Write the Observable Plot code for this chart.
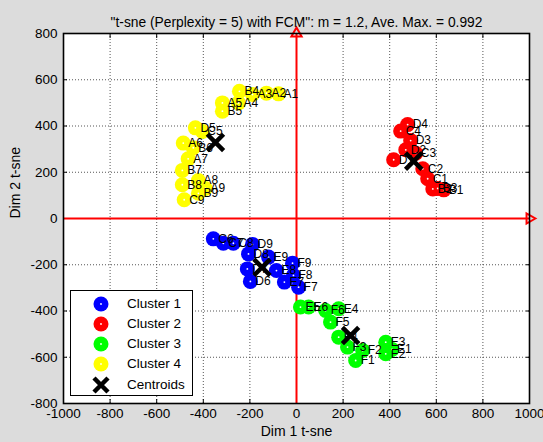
<!DOCTYPE html>
<html><head><meta charset="utf-8">
<script src="https://cdn.jsdelivr.net/npm/d3@7"></script>
<script src="https://cdn.jsdelivr.net/npm/@observablehq/plot@0.6"></script>
<style>
html,body{margin:0;padding:0;background:#dcdcdc;}
#wrap{position:relative;width:543px;height:442px;overflow:hidden;}
#legend{position:absolute;left:70px;top:290px;width:123px;height:106px;background:#fff;border:1px solid #000;box-sizing:border-box;font:13.5px "Liberation Sans",Arial,sans-serif;color:#000;}
#legend .row{position:absolute;left:0;height:20px;width:121px;}
#legend svg{position:absolute;left:20px;top:0;}
#legend span{position:absolute;left:56px;top:2px;line-height:16px;}
</style></head>
<body><div id="wrap"><div id="chart"></div><div id="legend"></div></div>
<script>
// ---- data ----
const titleText = "\"t-sne (Perplexity = 5) with FCM\": m = 1.2, Ave. Max. = 0.992";
const xLabel = "Dim 1 t-sne";
const yLabel = "Dim 2 t-sne";
const xTicks = [-1000, -800, -600, -400, -200, 0, 200, 400, 600, 800, 1000];
const yTicks = [-800, -600, -400, -200, 0, 200, 400, 600, 800];

const clusterNames = ["Cluster 1", "Cluster 2", "Cluster 3", "Cluster 4"];
const clusterColors = ["#0000ff", "#ff0000", "#00ff00", "#ffff00"];

const c1Labels = ["C6","C7","C8","D9","D8","E9","D7","D6","E8","F9","F8","E7","F7"];
const c1X = [-357,-314,-271,-189,-206,-120,-211,-198,-86,-17,-13,-52,9];
const c1Y = [-88,-107,-107,-112,-153,-167,-218,-272,-225,-193,-246,-275,-297];

const c2Labels = ["D4","C4","D3","D2","C3","D1","C2","C1","B2","B3","B1"];
const c2X = [477,447,490,469,512,417,542,563,585,606,632];
const c2Y = [406,378,337,297,282,254,215,172,128,130,124];

const c3Labels = ["E5","E6","F6","E4","F5","F4","F3","F2","F1","E3","E1","E2"];
const c3X = [17,52,125,181,146,181,219,284,254,383,410,383];
const c3Y = [-383,-383,-398,-390,-448,-513,-556,-571,-614,-535,-566,-585];

const c4Labels = ["A1","A2","A3","B4","A4","A5","B5","D5","C5","A6","B6","A7","B7","B8","A8","B9","A9","C9"];
const c4X = [-77,-129,-189,-245,-249,-318,-318,-434,-404,-486,-443,-465,-490,-490,-421,-421,-391,-482];
const c4Y = [539,542,536,550,500,500,464,392,376,326,306,258,208,146,164,109,130,81];

const centroidX = [-148, 503, 232, -348];
const centroidY = [-211, 248, -506, 329];

// ---- build tables ----
const groups = [[c1Labels,c1X,c1Y],[c2Labels,c2X,c2Y],[c3Labels,c3X,c3Y],[c4Labels,c4X,c4Y]];
const pts = [];
groups.forEach(([L,X,Y],g) => L.forEach((lab,i) => pts.push({label:lab, x:X[i], y:Y[i], cluster:clusterNames[g], color:clusterColors[g]})));
const cents = centroidX.map((x,i) => ({x, y:centroidY[i]}));

const fmt = d => String(d);
const font = "Liberation Sans, Arial, sans-serif";
const chart = Plot.plot({
  width: 543, height: 442,
  marginTop: 33, marginRight: 14, marginBottom: 39, marginLeft: 63,
  x: {domain: [-1000, 1000]},
  y: {domain: [-800, 800]},
  style: {background: "transparent", fontFamily: font, fontSize: "13.5px", color: "#000", overflow: "visible"},
  marks: [
    Plot.frame({fill: "#fff"}),
    Plot.gridX(xTicks, {stroke: "#444", strokeOpacity: 0.9, strokeDasharray: "1,2"}),
    Plot.gridY(yTicks, {stroke: "#444", strokeOpacity: 0.9, strokeDasharray: "1,2"}),
    Plot.axisX(xTicks, {anchor: "bottom", tickSize: 0, tickPadding: 5, label: null, fontSize: 13.5, tickFormat: fmt}),
    Plot.axisX(xTicks, {anchor: "bottom", tickSize: -4, text: null, label: null}),
    Plot.axisX(xTicks, {anchor: "top", tickSize: -4, text: null, label: null}),
    Plot.axisY(yTicks, {anchor: "left", tickSize: 0, tickPadding: 6, label: null, fontSize: 13.5, tickFormat: fmt}),
    Plot.axisY(yTicks, {anchor: "left", tickSize: -4, text: null, label: null}),
    Plot.axisY(yTicks, {anchor: "right", tickSize: -4, text: null, label: null}),
    Plot.ruleX([0], {stroke: "red", strokeWidth: 2}),
    Plot.ruleY([0], {stroke: "red", strokeWidth: 2}),
    Plot.dot([[0, 800]], {x: d => d[0], y: d => d[1], symbol: "triangle", r: 3.8, stroke: "red", strokeWidth: 2, fill: "none"}),
    Plot.dot([[1000, 0]], {x: d => d[0], y: d => d[1], symbol: "triangle", rotate: 90, r: 3.8, stroke: "red", strokeWidth: 2, fill: "none"}),
    Plot.dot(pts, {x: "x", y: "y", r: 7.5, fill: d => d.color, stroke: "none"}),
    Plot.dot(pts, {x: "x", y: "y", r: 0.9, fill: "#fff", stroke: "none"}),
    Plot.text(pts, {x: "x", y: "y", text: "label", textAnchor: "start", dx: 5, fontSize: 12, fill: "#000"}),
    Plot.dot(cents, {x: "x", y: "y", symbol: "times", r: 7.5, stroke: "#000", strokeWidth: 4.5}),
    Plot.frame({stroke: "#000", strokeWidth: 1.6}),
    Plot.text([titleText], {frameAnchor: "top", dy: -16, fontSize: 13.8, fill: "#000"}),
    Plot.text([xLabel], {frameAnchor: "bottom", dy: 32, fontSize: 14, fill: "#000"}),
    Plot.text([yLabel], {frameAnchor: "left", dx: -48, rotate: -90, fontSize: 14, fill: "#000"})
  ]
});
document.getElementById("chart").appendChild(chart);

// ---- legend ----
const legend = document.getElementById("legend");
const rowsTop = [3, 23, 43, 63, 84];
clusterNames.concat(["Centroids"]).forEach((name, i) => {
  const row = document.createElement("div");
  row.className = "row";
  row.style.top = rowsTop[i] + "px";
  const sw = i < 4
    ? `<svg width="20" height="20"><circle cx="10" cy="10" r="7.5" fill="${clusterColors[i]}"/><circle cx="10" cy="10" r="0.9" fill="#fff"/></svg>`
    : `<svg width="20" height="20"><path d="M3,3L17,17M17,3L3,17" stroke="#000" stroke-width="4.5"/></svg>`;
  row.innerHTML = sw + `<span>${name}</span>`;
  legend.appendChild(row);
});
</script>
</body></html>
